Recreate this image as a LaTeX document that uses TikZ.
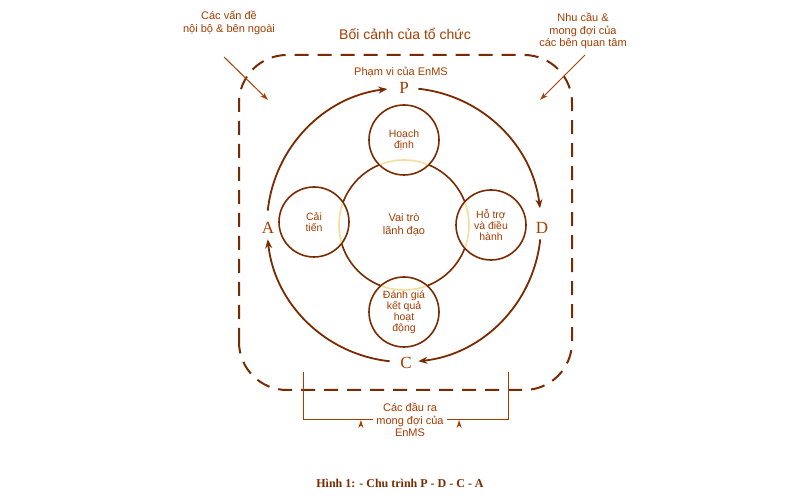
\documentclass[tikz,border=0pt]{standalone}
\usepackage{fontspec}
\setmainfont{Liberation Sans}
\newfontfamily\serifletters{Liberation Serif}
\usetikzlibrary{arrows.meta,positioning}
\definecolor{brn}{HTML}{7A2A00}
\definecolor{txt}{HTML}{A53C00}
\definecolor{glow}{HTML}{F5DE9A}
\tikzset{
  ring/.style={draw=brn,line width=1.6pt},
  bubble/.style={circle,draw=brn,line width=1.6pt,fill=white,minimum size=70pt,inner sep=0pt,
                 align=center,text=txt,font=\fontsize{10.5}{11}\selectfont},
  lbl/.style={text=txt,align=center,font=\fontsize{11}{12.5}\selectfont},
  letter/.style={text=txt,font=\serifletters\fontsize{17}{17}\selectfont},
  cyc/.style={draw=brn,line width=1.8pt,-{Stealth[length=9pt,width=7pt]}},
  feed/.style={draw=txt,line width=1pt,-{Stealth[length=8pt,width=5pt]}}
}
\begin{document}
\begin{tikzpicture}[x=1pt,y=1pt]
  \useasboundingbox (0,0) rectangle (800,500);
%
  \draw [brn,line width=2pt,dash pattern=on 14pt off 9pt,rounded corners=48pt]
    (239,110) rectangle (572,445);
%
  \coordinate (o) at (404,275);
  \draw [ring] (o) circle[radius=65];
  \node [bubble] (plan) at (404,360) {Hoạch\\định};
  \node [bubble] (act)  at (314,278) {Cải\\tiến};
  \node [bubble] (do)   at (491,275) {Hỗ trợ\\và điều\\hành};
  \node [bubble] (chk)  at (404,188) {Đánh giá\\kết quả\\hoạt\\động};
  \foreach \b in {plan,act,do,chk} {
    \begin{scope}
      \clip (\b) circle[radius=34];
      \draw [glow,line width=1.6pt] (o) circle[radius=65];
    \end{scope}
  }
  \node [lbl] (lead) at (o) {Vai trò\\lãnh đạo};
%
  \node [letter] (P) at (404,412) {P};
  \node [letter] (D) at (542,272) {D};
  \node [letter] (C) at (406,137) {C};
  \node [letter] (A) at (268,272) {A};
  \draw [cyc] (o) ++(174:137) arc[start angle=174,end angle=97,radius=137];
  \draw [cyc] (o) ++(84:137) arc[start angle=84,end angle=7,radius=137];
  \draw [cyc] (o) ++(-6:137) arc[start angle=-6,end angle=-84,radius=137];
  \draw [cyc] (o) ++(-96:137) arc[start angle=-96,end angle=-174,radius=137];
%
  \node [lbl,font=\fontsize{14}{16}\selectfont] (ctx) at (405,466) {Bối cảnh của tổ chức};
  \node [lbl] (scope) at (401,428) {Phạm vi của EnMS};
  \node [lbl] (issues) at (229,477) {Các vấn đề\\nội bộ \& bên ngoài};
  \node [lbl] (needs) at (583,469) {Nhu cầu \&\\mong đợi của\\các bên quan tâm};
  \node [lbl] (outs) at (410,80) {Các đầu ra\\mong đợi của\\EnMS};
  \coordinate (in1) at (268,400);
  \coordinate (in2) at (540,400);
  \draw [feed] (224,443) -- (in1);
  \draw [feed] (585,445) -- (in2);
  \draw [feed] (303,128) |- (outs.west|-0,80) ++(-12,0) coordinate (o1);
  \draw [feed] (508,128) |- (outs.east|-0,80) ++(12,0) coordinate (o2);
%
  \node [font=\bfseries\serifletters\fontsize{12}{14}\selectfont,text=brn] (cap) at (400,17)
    {Hình 1: - Chu trình P - D - C - A};
\end{tikzpicture}
\end{document}
